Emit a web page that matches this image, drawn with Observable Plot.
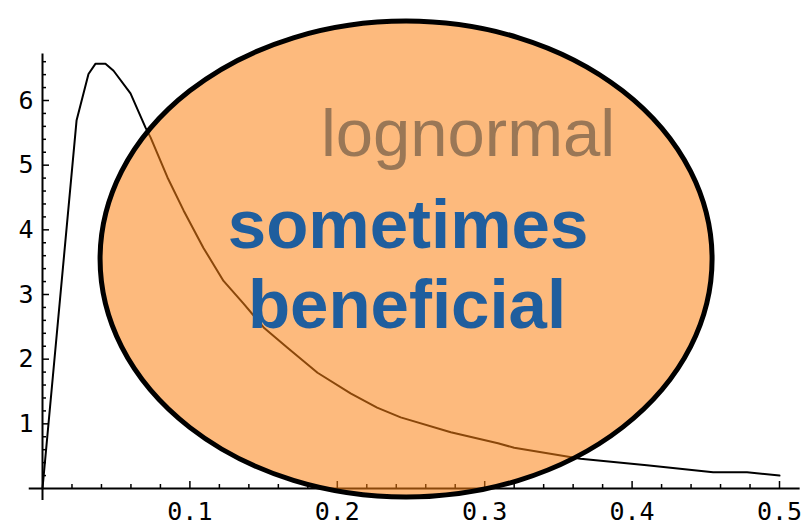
<!DOCTYPE html>
<html><head><meta charset="utf-8">
<script src="https://cdn.jsdelivr.net/npm/d3@7"></script>
<script src="https://cdn.jsdelivr.net/npm/@observablehq/plot@0.6"></script>
<style>html,body{margin:0;padding:0;background:#fff;overflow:hidden;}</style>
</head><body><div id="chart"></div>
<script>
// curve
const curveX = [0, 0.0231, 0.0312, 0.036, 0.0427, 0.0482, 0.0597, 0.0699, 0.0733, 0.0848, 0.0957, 0.1092, 0.1228, 0.1364, 0.15, 0.166, 0.1866, 0.209, 0.227, 0.243, 0.277, 0.309, 0.32, 0.365, 0.41, 0.455, 0.478, 0.5];
const curveY = [0, 5.69, 6.41, 6.57, 6.57, 6.46, 6.11, 5.58, 5.43, 4.81, 4.30, 3.72, 3.21, 2.86, 2.49, 2.18, 1.79, 1.47, 1.25, 1.10, 0.87, 0.70, 0.63, 0.46, 0.36, 0.25, 0.25, 0.20];

const xMajor = [0.1, 0.2, 0.3, 0.4, 0.5];
const xMajorLabels = ["0.1", "0.2", "0.3", "0.4", "0.5"];
const xMinor = [0.02, 0.04, 0.06, 0.08, 0.12, 0.14, 0.16, 0.18, 0.22, 0.24, 0.26, 0.28, 0.32, 0.34, 0.36, 0.38, 0.42, 0.44, 0.46, 0.48];
const yMajor = [1, 2, 3, 4, 5, 6];
const yMajorLabels = ["1", "2", "3", "4", "5", "6"];
const yMinor = [0.2, 0.4, 0.6, 0.8, 1.2, 1.4, 1.6, 1.8, 2.2, 2.4, 2.6, 2.8, 3.2, 3.4, 3.6, 3.8, 4.2, 4.4, 4.6, 4.8, 5.2, 5.4, 5.6, 5.8, 6.2, 6.4, 6.6];
const xAxisExtent = [-0.009, 0.514];
const yAxisExtent = [-0.185, 6.72];

// overlay ellipse in data units: centre, radii
const ellipseCenter = [0.247, 3.54];
const ellipseRadii = [0.2076, 3.68];

const annotations = [
  {x: 0.2887, y: 5.147, text: "lognormal", kind: "grey"},
  {x: 0.248, y: 3.725, text: "sometimes", kind: "blue"},
  {x: 0.2473, y: 2.488, text: "beneficial", kind: "blue"}
];

const curve = curveX.map((x, i) => ({x, y: curveY[i]}));
const xTicks = xMajor.map((x, i) => ({x, label: xMajorLabels[i]}));
const yTicks = yMajor.map((y, i) => ({y, label: yMajorLabels[i]}));

function ellipseMark(index, scales) {
  const x = scales.x, y = scales.y;
  const cx = x(ellipseCenter[0]), cy = y(ellipseCenter[1]);
  const rx = x(ellipseCenter[0] + ellipseRadii[0]) - cx;
  const ry = cy - y(ellipseCenter[1] + ellipseRadii[1]);
  const ns = "http://www.w3.org/2000/svg";
  const g = document.createElementNS(ns, "g");
  const fill = document.createElementNS(ns, "ellipse");
  fill.setAttribute("cx", cx); fill.setAttribute("cy", cy);
  fill.setAttribute("rx", rx); fill.setAttribute("ry", ry);
  fill.setAttribute("fill", "#fb8213");
  fill.setAttribute("fill-opacity", 0.55);
  fill.setAttribute("stroke", "#000");
  fill.setAttribute("stroke-width", 5);
  g.appendChild(fill);
  return g;
}

const monoFont = "'DejaVu Sans Mono', 'Liberation Mono', monospace";

const chart = Plot.plot({
  width: 809, height: 526,
  marginLeft: 42, marginRight: 30, marginTop: 100, marginBottom: 38,
  x: {domain: [0, 0.5], axis: null},
  y: {domain: [0, 6], axis: null},
  style: {background: "#fff"},
  marks: [
    // axes
    Plot.ruleY([0], {x1: xAxisExtent[0], x2: xAxisExtent[1], stroke: "#000", strokeWidth: 2}),
    Plot.ruleX([0], {y1: yAxisExtent[0], y2: yAxisExtent[1], stroke: "#000", strokeWidth: 2}),
    Plot.ruleX(xMinor, {x: d => d, y1: 0, y2: 0, insetTop: -4, stroke: "#000", strokeWidth: 1.5}),
    Plot.ruleX(xMajor, {x: d => d, y1: 0, y2: 0, insetTop: -7, stroke: "#000", strokeWidth: 1.5}),
    Plot.ruleY(yMinor, {y: d => d, x1: 0, x2: 0, insetRight: -4, stroke: "#000", strokeWidth: 1.5}),
    Plot.ruleY(yMajor, {y: d => d, x1: 0, x2: 0, insetRight: -7, stroke: "#000", strokeWidth: 1.5}),
    Plot.text(xTicks, {x: "x", y: 0, text: "label", dy: 31, lineAnchor: "bottom", textAnchor: "middle", fontFamily: monoFont, fontSize: 25, fill: "#000"}),
    Plot.text(yTicks, {x: 0, y: "y", text: "label", dx: -9, textAnchor: "end", lineAnchor: "middle", fontFamily: monoFont, fontSize: 25, fill: "#000"}),
    // curve
    Plot.line(curve, {x: "x", y: "y", stroke: "#000", strokeWidth: 2, curve: "linear"}),
    // overlay
    ellipseMark,
    Plot.text(annotations.filter(d => d.kind === "grey"), {x: "x", y: "y", text: "text", lineAnchor: "bottom", textAnchor: "middle", fontFamily: "'Liberation Sans', Arial, sans-serif", fontSize: 67, fill: "#9a7756"}),
    Plot.text(annotations.filter(d => d.kind === "blue"), {x: "x", y: "y", text: "text", lineAnchor: "bottom", textAnchor: "middle", fontFamily: "'Liberation Sans', Arial, sans-serif", fontWeight: "bold", fontSize: 69, fill: "#1f5e9e"})
  ]
});
document.getElementById("chart").appendChild(chart);
</script>
</body></html>
